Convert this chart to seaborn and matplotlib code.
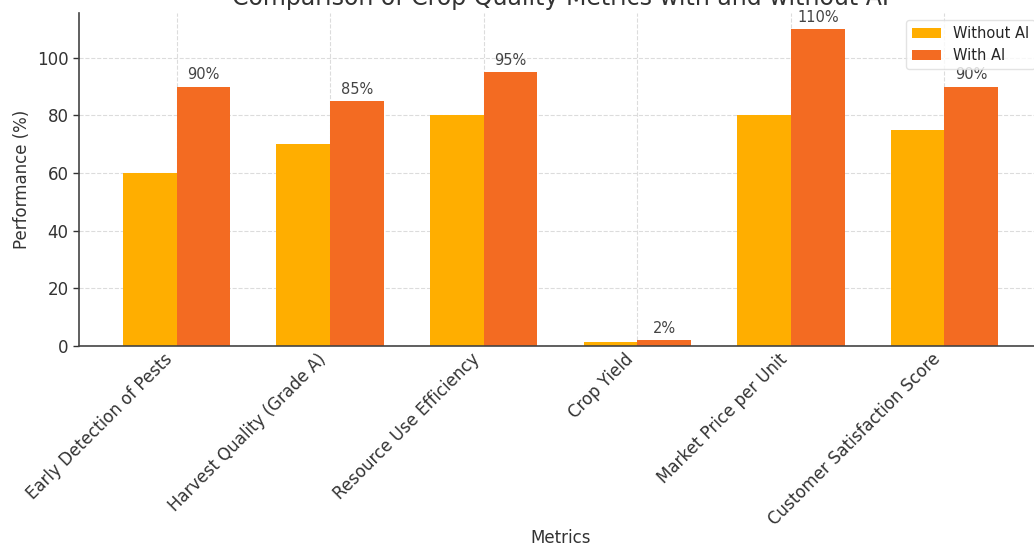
import matplotlib
matplotlib.use("Agg")
import matplotlib.pyplot as plt
import seaborn as sns
import pandas as pd

metrics = ["Early Detection of Pests", "Harvest Quality (Grade A)", "Resource Use Efficiency",
           "Crop Yield", "Market Price per Unit", "Customer Satisfaction Score"]
without_ai = [60, 70, 80, 1.5, 80, 75]
with_ai = [90, 85, 95, 2, 110, 90]
series = ["Without AI", "With AI"]
colors = ["#FFAE00", "#F36B22"]

df = pd.DataFrame({
    "Metric": metrics * 2,
    "Group": [series[0]] * len(metrics) + [series[1]] * len(metrics),
    "Value": without_ai + with_ai,
})

sns.set_theme(style="whitegrid")
plt.rcParams["font.family"] = ["DejaVu Sans"]

fig = plt.figure(figsize=(10.34, 5.53), dpi=100)
ax = fig.add_axes([79 / 1034, 1 - 346 / 553, (1042 - 79) / 1034, (346 - 13) / 553])

sns.barplot(data=df, x="Metric", y="Value", hue="Group", palette=colors,
            width=0.7, saturation=1, ax=ax, edgecolor="none")

# value labels above the "With AI" bars
for i, v in enumerate(with_ai):
    ax.text(i + 0.175, v + 1.5, f"{v}%", ha="center", va="bottom",
            fontsize=10.5, color="#444444")

ax.set_xlim(-0.635, 5.635)
ax.set_ylim(0, 115.5)
ax.set_title("Comparison of Crop Quality Metrics with and without AI", fontsize=17,
             color="#333333", pad=6)
ax.set_xlabel("Metrics", fontsize=12, color="#333333", labelpad=0)
ax.set_ylabel("Performance (%)", fontsize=12, color="#333333")
ax.tick_params(axis="y", labelsize=12, colors="#333333", length=4, width=1, left=True)
ax.tick_params(axis="x", labelsize=12, colors="#333333", length=0, pad=3)
plt.setp(ax.get_xticklabels(), rotation=45, ha="right")

ax.grid(True, linestyle="--", color="#dcdcdc", linewidth=0.8)
ax.set_axisbelow(True)
for side in ["top", "right"]:
    ax.spines[side].set_visible(False)
for side in ["left", "bottom"]:
    ax.spines[side].set_color("#444444")
    ax.spines[side].set_linewidth(1.2)

leg = ax.legend(loc="upper right", fontsize=10.5, frameon=True, title=None)
leg.get_frame().set_edgecolor("#dddddd")

fig.savefig("out.png", dpi=100)
